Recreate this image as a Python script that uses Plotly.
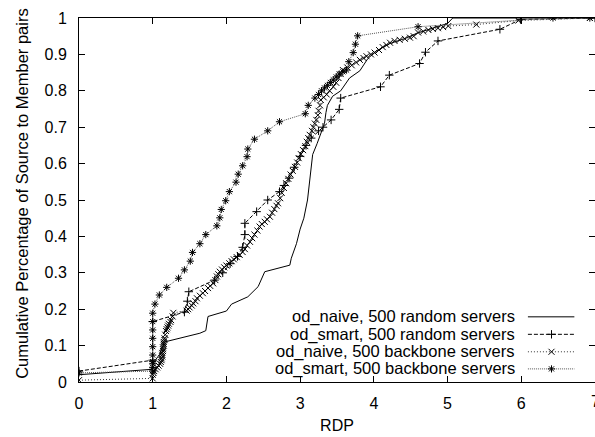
import plotly.graph_objects as go

# ---- data ----
naive_random_x = [0, 1.0, 1.0, 1.09, 1.16, 1.64, 1.72, 1.75, 2.0, 2.07, 2.29, 2.43, 2.52, 2.86,
                  2.88, 2.95, 3.0, 3.05, 3.1, 3.13, 3.17, 3.23, 3.29, 3.33, 3.35, 3.37, 3.44,
                  3.55, 3.67, 3.81, 3.92, 4.04, 4.22, 4.44, 4.58, 4.73, 5.0, 5.07, 7.0]
naive_random_y = [0.02, 0.035, 0.05, 0.075, 0.11, 0.134, 0.141, 0.18, 0.195, 0.214, 0.234, 0.262,
                  0.303, 0.321, 0.34, 0.38, 0.42, 0.45, 0.5, 0.56, 0.625, 0.655, 0.685, 0.71,
                  0.74, 0.76, 0.785, 0.80, 0.835, 0.855, 0.889, 0.91, 0.93, 0.945, 0.958, 0.967,
                  0.985, 1.0, 1.0]

smart_random_x = [0, 1.0, 1.0, 1.43, 1.47, 1.49, 1.84, 1.95, 2.05, 2.15, 2.22, 2.25, 2.25, 2.41,
                  2.56, 2.72, 2.78, 2.85, 2.92, 3.0, 3.08, 3.15, 3.25, 3.31, 3.42, 3.53, 3.55,
                  4.09, 4.21, 4.62, 4.70, 4.87, 5.71, 5.99, 7.0]
smart_random_y = [0.03, 0.06, 0.166, 0.192, 0.222, 0.248, 0.28, 0.30, 0.325, 0.345, 0.37, 0.405,
                  0.436, 0.468, 0.5, 0.523, 0.54, 0.56, 0.59, 0.62, 0.65, 0.67, 0.69, 0.70,
                  0.72, 0.749, 0.78, 0.811, 0.843, 0.875, 0.906, 0.937, 0.969, 0.996, 1.0]

naive_backbone_x = [0, 1.0, 1.0, 1.01, 1.02, 1.04, 1.06, 1.08, 1.1, 1.11, 1.12, 1.12, 1.13, 1.13,
                    1.13, 1.14, 1.14, 1.14, 1.15, 1.15, 1.15, 1.16, 1.16, 1.17, 1.18, 1.19, 1.2,
                    1.21, 1.22, 1.24, 1.25, 1.27, 1.28, 1.46, 1.48, 1.5, 1.53, 1.55, 1.58, 1.6,
                    1.64, 1.68, 1.71, 1.75, 1.78, 1.82, 1.85, 1.87, 1.89, 1.91, 1.94, 1.97, 2.0,
                    2.04, 2.07, 2.1, 2.14, 2.18, 2.22, 2.25, 2.28, 2.32, 2.35, 2.38, 2.42, 2.45,
                    2.48, 2.52, 2.55, 2.59, 2.62, 2.65, 2.68, 2.70, 2.73, 2.75, 2.78, 2.81, 2.84,
                    2.87, 2.9, 2.93, 2.96, 2.98, 3.01, 3.04, 3.07, 3.09, 3.11, 3.13, 3.16, 3.18,
                    3.2, 3.22, 3.24, 3.25, 3.27, 3.28, 3.32, 3.36, 3.4, 3.45, 3.49, 3.52, 3.55,
                    3.58, 3.64, 3.7, 3.76, 3.81, 3.86, 3.90, 3.96, 4.01, 4.07, 4.12, 4.17, 4.22,
                    4.28, 4.35, 4.42, 4.49, 4.54, 4.6, 4.67, 4.74, 4.8, 4.87, 4.94, 5.01, 5.39,
                    5.96, 6.93]
naive_backbone_y = [0.005, 0.01, 0.02, 0.025, 0.03, 0.035, 0.04, 0.045, 0.05, 0.055, 0.06, 0.065,
                    0.07, 0.075, 0.08, 0.085, 0.09, 0.095, 0.10, 0.105, 0.11, 0.115, 0.12, 0.13,
                    0.14, 0.145, 0.15, 0.155, 0.16, 0.165, 0.17, 0.18, 0.19, 0.196, 0.2, 0.205,
                    0.21, 0.216, 0.222, 0.23, 0.237, 0.244, 0.25, 0.258, 0.264, 0.271, 0.28, 0.29,
                    0.296, 0.303, 0.309, 0.315, 0.32, 0.326, 0.332, 0.337, 0.343, 0.349, 0.357,
                    0.365, 0.375, 0.385, 0.395, 0.405, 0.416, 0.427, 0.434, 0.44, 0.447, 0.454,
                    0.465, 0.475, 0.484, 0.491, 0.505, 0.52, 0.533, 0.546, 0.558, 0.57, 0.58,
                    0.591, 0.603, 0.615, 0.626, 0.637, 0.648, 0.66, 0.67, 0.679, 0.69, 0.70,
                    0.71, 0.72, 0.733, 0.745, 0.76, 0.775, 0.782, 0.79, 0.80, 0.811, 0.822,
                    0.835, 0.846, 0.857, 0.864, 0.87, 0.878, 0.885, 0.89, 0.895, 0.9, 0.905,
                    0.912, 0.92, 0.926, 0.932, 0.937, 0.94, 0.943, 0.946, 0.95, 0.96, 0.963,
                    0.967, 0.97, 0.972, 0.975, 0.978, 0.982, 0.993, 1.0]

smart_backbone_x = [0, 1.0, 1.0, 1.0, 1.0, 1.0, 1.0, 1.0, 1.0, 1.0, 1.0, 1.03, 1.09, 1.19, 1.35,
                    1.43, 1.51, 1.54, 1.64, 1.72, 1.87, 1.91, 1.93, 1.99, 2.04, 2.13, 2.16, 2.22,
                    2.28, 2.29, 2.38, 2.56, 2.72, 3.07, 3.11, 3.2, 3.25, 3.29, 3.33, 3.37, 3.41,
                    3.45, 3.49, 3.53, 3.58, 3.63, 3.66, 3.72, 3.75, 3.78, 4.60, 6.43, 6.93]
smart_backbone_y = [0.025, 0.03, 0.04, 0.05, 0.056, 0.074, 0.097, 0.12, 0.143, 0.166, 0.189,
                    0.214, 0.239, 0.26, 0.285, 0.308, 0.332, 0.356, 0.38, 0.405, 0.429, 0.451,
                    0.474, 0.498, 0.523, 0.549, 0.571, 0.594, 0.619, 0.64, 0.667, 0.69, 0.715,
                    0.737, 0.76, 0.78, 0.79, 0.80, 0.808, 0.815, 0.823, 0.83, 0.838, 0.846,
                    0.852, 0.857, 0.88, 0.905, 0.928, 0.951, 0.976, 1.0, 1.0]

series_names = ["od_naive, 500 random servers", "od_smart, 500 random servers",
                "od_naive, 500 backbone servers", "od_smart, 500 backbone servers"]
x_ticks = [0, 1, 2, 3, 4, 5, 6, 7]
x_tick_text = ["0", "1", "2", "3", "4", "5", "6", "7"]
y_ticks = [0, 0.1, 0.2, 0.3, 0.4, 0.5, 0.6, 0.7, 0.8, 0.9, 1]
y_tick_text = ["0", "0.1", "0.2", "0.3", "0.4", "0.5", "0.6", "0.7", "0.8", "0.9", "1"]
y_title = "Cumulative Percentage of Source to Member pairs"
x_title = "RDP"

# legend sample geometry (data coordinates, placed like gnuplot's key)
legend_rows = [0.179, 0.131, 0.083, 0.036]
legend_text_x = 5.93
legend_line_x = [6.09, 6.72]
legend_marker_x = 6.41

FONT = "Liberation Sans, Arial, sans-serif"
FS = 16

styles = [
    dict(line=dict(color="black", width=1), mode="lines", symbol=None),
    dict(line=dict(color="black", width=1, dash="4px,2px"), mode="lines+markers", symbol="cross-thin"),
    dict(line=dict(color="#333", width=1, dash="1px,2px"), mode="lines+markers", symbol="x-thin"),
    dict(line=dict(color="#555", width=1, dash="1px,1px"), mode="lines+markers", symbol="asterisk"),
]

data = [(naive_random_x, naive_random_y), (smart_random_x, smart_random_y),
        (naive_backbone_x, naive_backbone_y), (smart_backbone_x, smart_backbone_y)]

fig = go.Figure()
for (xs, ys), st, name in zip(data, styles, series_names):
    kw = dict(x=xs, y=ys, mode=st["mode"], line=st["line"], name=name, showlegend=False)
    if st["symbol"]:
        kw["marker"] = dict(symbol=st["symbol"], size=6, color="black",
                            line=dict(color="black", width=1))
    fig.add_trace(go.Scatter(**kw))

# custom key (text right-aligned, sample on the right)
for row, st, name in zip(legend_rows, styles, series_names):
    fig.add_trace(go.Scatter(x=legend_line_x, y=[row, row], mode="lines", line=st["line"],
                             showlegend=False, hoverinfo="skip"))
    if st["symbol"]:
        fig.add_trace(go.Scatter(x=[legend_marker_x], y=[row], mode="markers",
                                 marker=dict(symbol=st["symbol"], size=6, color="black",
                                             line=dict(color="black", width=1)),
                                 showlegend=False, hoverinfo="skip"))
    fig.add_annotation(x=legend_text_x, y=row, xref="x", yref="y", text=name,
                       showarrow=False, xanchor="right", yanchor="middle", borderpad=0,
                       font=dict(family=FONT, size=16.5, color="black"))

# last x tick label (partly outside the page, as in the reference)
fig.add_annotation(x=x_ticks[-1], y=0, xref="x", yref="y", text=x_tick_text[-1],
                   showarrow=False, xanchor="center", yanchor="top", yshift=-9,
                   font=dict(family=FONT, size=FS, color="black"))

# y-axis title placed like the reference (centre ~22 px from the left edge)
fig.add_annotation(x=0, y=0.517, xref="paper", yref="y domain", text=y_title,
                   textangle=-90, showarrow=False, xanchor="center", yanchor="middle",
                   xshift=-57, font=dict(family=FONT, size=16.5, color="black"))

fig.update_layout(
    width=595, height=437,
    margin=dict(l=79, r=0, t=18, b=55),
    paper_bgcolor="white", plot_bgcolor="white",
    font=dict(family=FONT, size=FS, color="black"),
    showlegend=False,
)
fig.update_xaxes(
    range=[0, 7], tickvals=x_ticks[:-1], ticktext=x_tick_text[:-1], ticks="inside", ticklen=6,
    tickcolor="black", showline=True, linecolor="black", linewidth=1, mirror="allticks",
    showgrid=False, zeroline=False, ticklabelstandoff=7,
    title=dict(text=x_title, font=dict(family=FONT, size=FS), standoff=8),
)
fig.update_yaxes(
    range=[0, 1], tickvals=y_ticks, ticktext=y_tick_text, ticks="inside", ticklen=6,
    tickcolor="black", showline=True, linecolor="black", linewidth=1, mirror="allticks",
    showgrid=False, zeroline=False, ticklabelstandoff=8,
)

fig.write_html("out.html")
